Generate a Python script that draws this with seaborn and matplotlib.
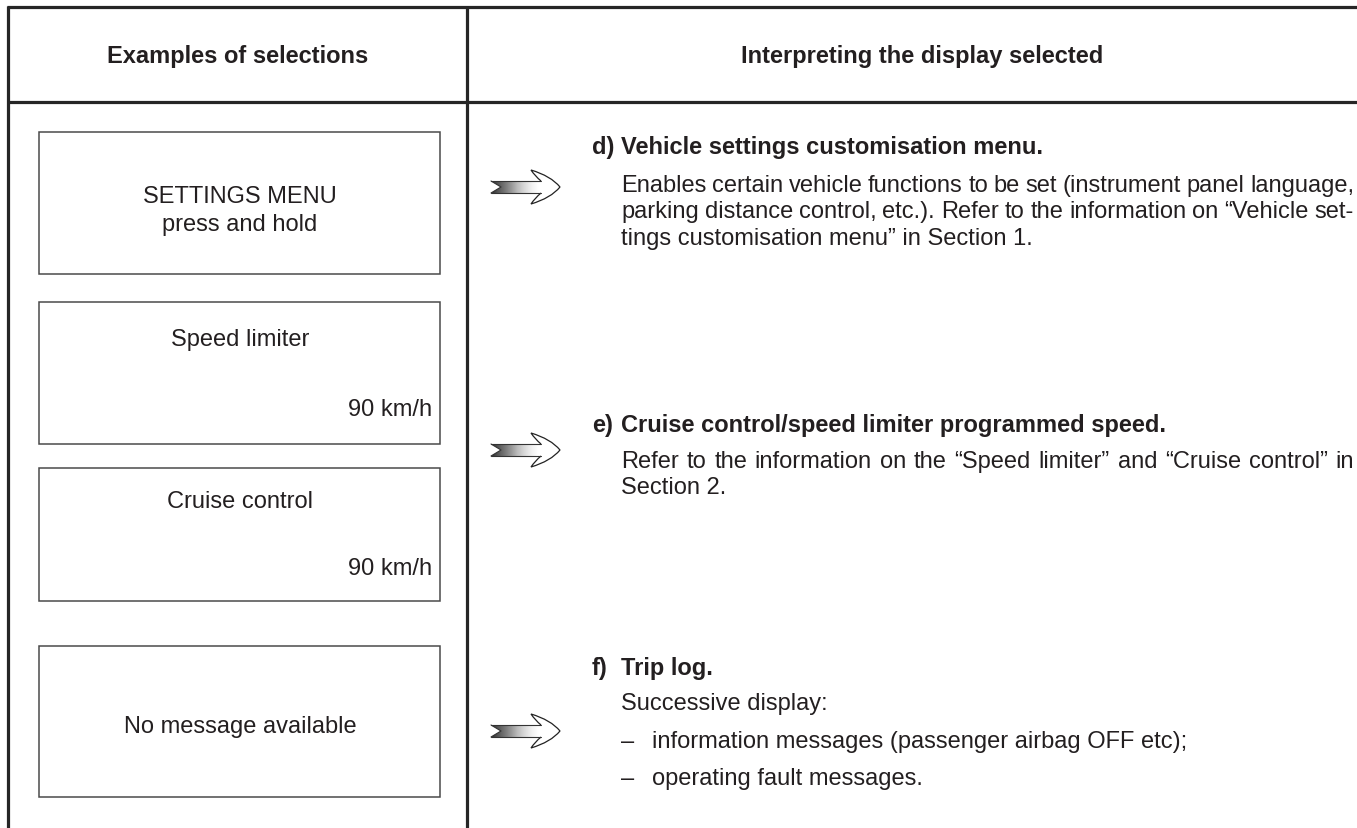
import numpy as np
import matplotlib
matplotlib.use("Agg")
import matplotlib.pyplot as plt
import seaborn as sns
from matplotlib.path import Path
from matplotlib.patches import PathPatch, Polygon, Rectangle

# table content
headers = ["Examples of selections", "Interpreting the display selected"]

box_titles = ["SETTINGS MENU", "Speed limiter", "Cruise control", "No message available"]
box_subtitles = ["press and hold", "", "", ""]
box_values = ["", "90 km/h", "90 km/h", ""]

item_labels = ["d)", "e)", "f)"]
item_titles = ["Vehicle settings customisation menu.",
               "Cruise control/speed limiter programmed speed.",
               "Trip log."]
item_bodies = [
    ["Enables certain vehicle functions to be set (instrument panel language,",
     "parking distance control, etc.). Refer to the information on \u201cVehicle set-",
     "tings customisation menu\u201d in Section 1."],
    ["Refer to the information on the \u201cSpeed limiter\u201d and \u201cCruise control\u201d in",
     "Section 2."],
    ["Successive display:"],
]
item_bullets = [[], [], ["information messages (passenger airbag OFF etc);",
                         "operating fault messages."]]

sns.set_theme(style="white")
plt.rcParams["font.family"] = ["Liberation Sans", "DejaVu Sans"]

W, H = 1357, 829
fig = plt.figure(figsize=(W / 100, H / 100), dpi=100)
ax = fig.add_axes([0, 0, 1, 1])
ax.set_xlim(0, W)
ax.set_ylim(H, 0)
renderer = fig.canvas.get_renderer()

ink = "#231f20"
fs = 17

# table grid
line_kw = dict(color="#262626", lw=2.3, solid_capstyle="butt")
ax.plot([7, W], [8, 8], **line_kw)
ax.plot([7, W], [103, 103], **line_kw)
ax.plot([8, 8], [7, H], **line_kw)
ax.plot([467, 467], [7, H], **line_kw)

ax.text(238, 63, headers[0], ha="center", va="baseline", fontsize=fs, fontweight="bold", color=ink)
ax.text(922, 63, headers[1], ha="center", va="baseline", fontsize=fs, fontweight="bold", color=ink)

# display boxes
box_top = [133, 303, 469, 647]
box_bot = [275, 445, 602, 798]
title_y = [203, 346, 508, 733]
sub_y = [231, 0, 0, 0]
value_y = [0, 416, 575, 0]
for i in range(len(box_titles)):
    ax.add_patch(Rectangle((39, box_top[i]), 401, box_bot[i] - box_top[i],
                           fill=False, ec="#4a4a4a", lw=1.1))
    ax.text(240, title_y[i], box_titles[i], ha="center", va="baseline", fontsize=fs, color=ink)
    if box_subtitles[i]:
        ax.text(240, sub_y[i], box_subtitles[i], ha="center", va="baseline", fontsize=fs, color=ink)
    if box_values[i]:
        ax.text(432, value_y[i], box_values[i], ha="right", va="baseline", fontsize=fs, color=ink)


def draw_arrow(y):
    # gradient shaft with fishtail tail
    shaft = Polygon([(491, y - 6), (541, y - 6), (541, y + 6), (491, y + 6), (501, y)],
                    closed=True, fc="none", ec="none")
    ax.add_patch(shaft)
    grad = np.linspace(0, 1, 256).reshape(1, -1)
    im = ax.imshow(grad, extent=[491, 541, y + 6, y - 6], cmap="Greys_r",
                   vmin=-0.15, vmax=0.95, aspect="auto", interpolation="bilinear")
    im.set_clip_path(shaft)
    ax.plot([491, 541], [y - 6, y - 6], color="#333333", lw=0.8)
    ax.plot([491, 541], [y + 6, y + 6], color="#333333", lw=0.8)
    ax.plot([491, 501, 491], [y - 6, y, y + 6], color="#333333", lw=0.8)
    # outlined head
    verts = [(541, y - 6), (535, y - 11), (531, y - 17),
             (551, y - 11), (560, y),
             (551, y + 11), (531, y + 17),
             (535, y + 11), (541, y + 6)]
    codes = [Path.MOVETO] + [Path.CURVE3] * 8
    ax.add_patch(PathPatch(Path(verts, codes), fc="none", ec="#222222", lw=0.9))


def justified(x0, x1, y, line):
    # spread the words so the line runs from x0 to x1, like the printed column
    words = line.split(" ")
    arts = [ax.text(0, y, w, ha="left", va="baseline", fontsize=fs, color=ink) for w in words]
    widths = [a.get_window_extent(renderer).width for a in arts]
    gap = (x1 - x0 - sum(widths)) / (len(words) - 1)
    x = x0
    for a, w in zip(arts, widths):
        a.set_x(x)
        x += w + gap


# interpretation column
label_y = [154, 432, 675]
body_y = [[192, 218, 245], [468, 494], [710]]
bullet_y = [[], [], [748, 785]]
arrow_y = [188, 451, 732]
for i in range(len(item_labels)):
    ax.text(592, label_y[i], item_labels[i], ha="left", va="baseline", fontsize=fs,
            fontweight="bold", color=ink)
    ax.text(621, label_y[i], item_titles[i], ha="left", va="baseline", fontsize=fs,
            fontweight="bold", color=ink)
    lines = item_bodies[i]
    for k, (line, yy) in enumerate(zip(lines, body_y[i])):
        if k < len(lines) - 1:
            justified(621, 1354, yy, line)
        else:
            ax.text(621, yy, line, ha="left", va="baseline", fontsize=fs, color=ink)
    for line, yy in zip(item_bullets[i], bullet_y[i]):
        ax.text(621, yy, "\u2013", ha="left", va="baseline", fontsize=fs, color=ink)
        ax.text(652, yy, line, ha="left", va="baseline", fontsize=fs, color=ink)
    draw_arrow(arrow_y[i])

ax.set_xlim(0, W)
ax.set_ylim(H, 0)
ax.axis("off")

fig.savefig("out.png", dpi=100, facecolor="white")
